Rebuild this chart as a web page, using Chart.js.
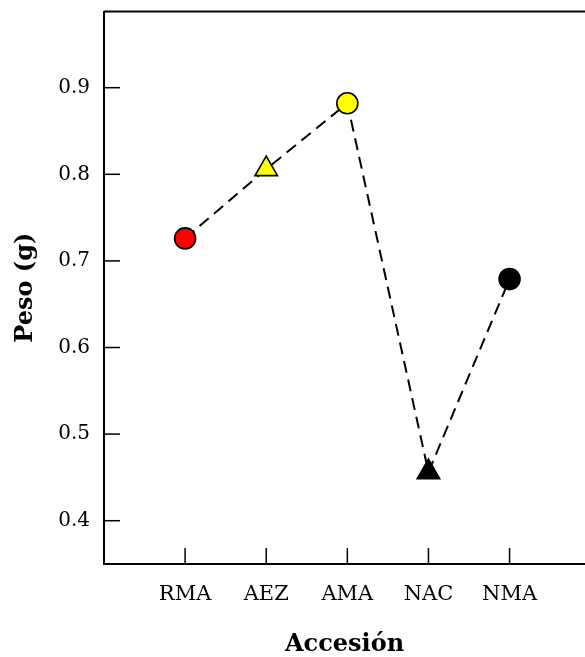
<!DOCTYPE html>
<html>
<head>
<meta charset="utf-8">
<script src="https://cdn.jsdelivr.net/npm/chart.js@4"></script>
<style>
  html, body { margin: 0; padding: 0; background: #fff; }
  #wrap { width: 585px; height: 657px; }
</style>
</head>
<body>
<div id="wrap"><canvas id="peso-chart" width="585" height="657"></canvas></div>
<script>
// Accessions along the x axis and their mean weight (g)
const accesiones = ['RMA', 'AEZ', 'AMA', 'NAC', 'NMA'];
const pesos      = [0.726, 0.806, 0.882, 0.456, 0.679];
const marcadores = ['circle', 'triangle', 'circle', 'triangle', 'circle'];
const rellenos   = ['#ff0000', '#ffff00', '#ffff00', '#000000', '#000000'];
const tamanos    = [10.5, 13, 10.5, 13, 10.5];
const yTicks     = [0.4, 0.5, 0.6, 0.7, 0.8, 0.9];

const serif = '"DejaVu Serif", "Liberation Serif", serif';

// drop the extra room Chart.js keeps for edge labels so the frame fills the canvas
function noEdgePadding(scale) {
    scale.paddingTop = 0;
    scale.paddingBottom = 0;
    scale.paddingLeft = 0;
    scale.paddingRight = 0;
}

// top frame line + short inward ticks on both axes
const frameTicks = {
    id: 'frameTicks',
    beforeDatasetsDraw(chart) {
        const {ctx, chartArea, scales} = chart;
        ctx.save();
        ctx.strokeStyle = '#000';
        ctx.lineWidth = 2;
        ctx.beginPath();
        ctx.moveTo(chartArea.left, chartArea.top);
        ctx.lineTo(chartArea.right, chartArea.top);
        ctx.stroke();

        ctx.lineWidth = 1.5;
        const len = 16;
        for (const t of scales.y.ticks) {
            const py = scales.y.getPixelForValue(t.value);
            ctx.beginPath();
            ctx.moveTo(chartArea.left, py);
            ctx.lineTo(chartArea.left + len, py);
            ctx.stroke();
        }
        for (const t of scales.x.ticks) {
            const px = scales.x.getPixelForValue(t.value);
            ctx.beginPath();
            ctx.moveTo(px, chartArea.bottom);
            ctx.lineTo(px, chartArea.bottom - len);
            ctx.stroke();
        }
        ctx.restore();
    }
};

const ctx = document.getElementById('peso-chart').getContext('2d');

new Chart(ctx, {
    type: 'line',
    data: {
        datasets: [{
            label: 'Peso',
            data: pesos.map((v, i) => ({x: i + 1, y: v})),
            borderColor: '#000',
            borderWidth: 2,
            borderDash: [12, 7],
            fill: false,
            tension: 0,
            clip: false,
            pointStyle: marcadores,
            pointRadius: tamanos,
            pointHoverRadius: tamanos,
            pointBackgroundColor: rellenos,
            pointBorderColor: '#000',
            pointBorderWidth: 1.6
        }]
    },
    options: {
        responsive: false,
        animation: false,
        devicePixelRatio: 1,
        layout: { autoPadding: false, padding: { top: 11.5, right: 0, bottom: 0, left: 0 } },
        plugins: {
            legend: { display: false },
            tooltip: { enabled: false }
        },
        scales: {
            x: {
                type: 'linear',
                min: 0,
                max: 5.93,
                afterFit(scale) { scale.height = 93; noEdgePadding(scale); },
                afterBuildTicks(scale) {
                    scale.ticks = accesiones.map((_, i) => ({value: i + 1}));
                },
                ticks: {
                    padding: 18,
                    color: '#000',
                    font: { family: serif, size: 21 },
                    callback: (v) => accesiones[Math.round(v) - 1] || ''
                },
                grid: { drawOnChartArea: false, drawTicks: false },
                border: { display: true, color: '#000', width: 2 },
                title: {
                    display: true,
                    text: 'Accesión',
                    color: '#000',
                    font: { family: serif, size: 24, weight: 'bold', lineHeight: 1.0 },
                    padding: { top: 0, bottom: 0 }
                }
            },
            y: {
                min: 0.35,
                max: 0.988,
                afterFit(scale) { scale.width = 104; noEdgePadding(scale); },
                afterBuildTicks(scale) {
                    scale.ticks = yTicks.map(v => ({value: v}));
                },
                ticks: {
                    padding: 14,
                    color: '#000',
                    font: { family: serif, size: 20 },
                    callback: (v) => v.toFixed(1)
                },
                grid: { drawOnChartArea: false, drawTicks: false },
                border: { display: true, color: '#000', width: 2 },
                title: {
                    display: true,
                    text: 'Peso (g)',
                    color: '#000',
                    font: { family: serif, size: 24, weight: 'bold', lineHeight: 1.2 },
                    padding: { top: 11, bottom: 0 }
                }
            }
        }
    },
    plugins: [frameTicks]
});
</script>
</body>
</html>
